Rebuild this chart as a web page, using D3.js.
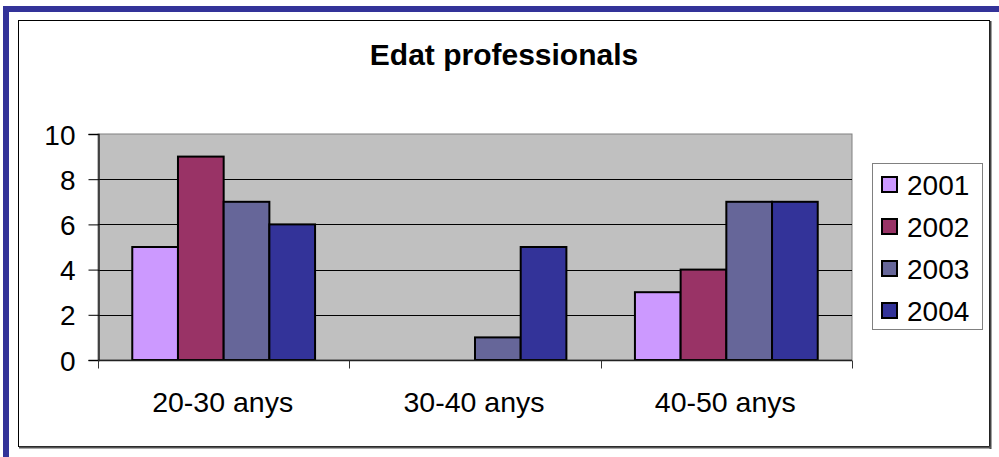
<!DOCTYPE html>
<html>
<head>
<meta charset="utf-8">
<script src="https://cdn.jsdelivr.net/npm/d3@7"></script>
<style>
  html, body { margin: 0; padding: 0; background: #fff; }
  svg { display: block; }
  text { font-family: "Liberation Sans", Arial, sans-serif; fill: #000; }
</style>
</head>
<body>
<svg id="chart" width="999" height="457"></svg>
<script>
const title = "Edat professionals";
const categories = ["20-30 anys", "30-40 anys", "40-50 anys"];
const seriesNames = ["2001", "2002", "2003", "2004"];
const values2001 = [5, 0, 3];
const values2002 = [9, 0, 4];
const values2003 = [7, 1, 7];
const values2004 = [6, 5, 7];
const seriesValues = [values2001, values2002, values2003, values2004];
const seriesColors = ["#CC99FF", "#993366", "#666699", "#333399"];
const yTicks = [0, 2, 4, 6, 8, 10];

const svg = d3.select("#chart");

// outer blue frame
svg.append("rect").attr("x", 3).attr("y", 6).attr("width", 996).attr("height", 6).attr("fill", "#333399");
svg.append("rect").attr("x", 3).attr("y", 6).attr("width", 6).attr("height", 451).attr("fill", "#333399");

// chart area box
svg.append("rect").attr("x", 18.5).attr("y", 20.5).attr("width", 971).attr("height", 426)
  .attr("fill", "#fff").attr("stroke", "#000").attr("stroke-width", 1);
svg.append("line").attr("x1", 990.5).attr("x2", 990.5).attr("y1", 21).attr("y2", 449)
  .attr("stroke", "#444").attr("stroke-width", 2);
svg.append("line").attr("x1", 19).attr("x2", 991).attr("y1", 447.5).attr("y2", 447.5)
  .attr("stroke", "#555").attr("stroke-width", 2);

// title
svg.append("text").attr("x", 504).attr("y", 65).attr("text-anchor", "middle")
  .attr("font-size", 30).attr("font-weight", "bold").text(title);

const plot = { left: 98, right: 852, top: 134, bottom: 360 };

const x0 = d3.scaleBand().domain(categories).range([plot.left, plot.right]).padding(0);
const bw = x0.bandwidth() / (seriesNames.length + 1.5);
const x1 = d3.scaleBand().domain(seriesNames)
  .range([0.75 * bw, 0.75 * bw + seriesNames.length * bw]).padding(0);
const y = d3.scaleLinear().domain([0, 10]).range([plot.bottom, plot.top]);

// plot background
svg.append("rect").attr("x", plot.left).attr("y", plot.top)
  .attr("width", plot.right - plot.left).attr("height", plot.bottom - plot.top)
  .attr("fill", "#C0C0C0").attr("stroke", "#808080").attr("stroke-width", 1);

// gridlines
svg.append("g").selectAll("line").data(yTicks.filter(t => t > 0 && t < 10)).join("line")
  .attr("x1", plot.left).attr("x2", plot.right)
  .attr("y1", d => Math.round(y(d)) + 0.5).attr("y2", d => Math.round(y(d)) + 0.5)
  .attr("stroke", "#000").attr("stroke-width", 1);

// bars
const groups = svg.append("g").selectAll("g").data(categories).join("g")
  .attr("transform", c => `translate(${x0(c)},0)`);
groups.selectAll("rect")
  .data((c, ci) => seriesNames.map((s, si) => ({ s, si, v: seriesValues[si][ci] })))
  .join("rect")
  .filter(d => d.v > 0)
  .attr("x", d => x1(d.s))
  .attr("y", d => y(d.v))
  .attr("width", x1.bandwidth())
  .attr("height", d => y(0) - y(d.v))
  .attr("fill", d => seriesColors[d.si])
  .attr("stroke", "#000").attr("stroke-width", 2);

// y axis
const yAxis = d3.axisLeft(y).tickValues(yTicks).tickSize(10).tickPadding(13);
const gy = svg.append("g").attr("transform", `translate(${plot.left + 0.5},0)`).call(yAxis);
gy.select(".domain").attr("stroke", "#222").attr("stroke-width", 1.5);
gy.selectAll(".tick line").attr("stroke", "#000");
gy.selectAll(".tick text").attr("font-size", 28).attr("font-family", "'Liberation Sans', Arial, sans-serif")
  .attr("fill", "#000").attr("dy", "0.36em");

// x axis
const gx = svg.append("g").attr("transform", `translate(0,${plot.bottom + 0.5})`);
gx.append("line").attr("x1", plot.left).attr("x2", plot.right).attr("y1", 0).attr("y2", 0)
  .attr("stroke", "#222").attr("stroke-width", 1.5);
const boundaries = categories.map(c => x0(c)).concat([x0(categories[categories.length - 1]) + x0.bandwidth()]);
gx.selectAll("line.tk").data(boundaries).join("line").attr("class", "tk")
  .attr("x1", d => Math.round(d) + 0.5).attr("x2", d => Math.round(d) + 0.5)
  .attr("y1", 0).attr("y2", 8).attr("stroke", "#333");
gx.selectAll("text").data(categories).join("text")
  .attr("x", c => x0(c) + x0.bandwidth() / 2 - 1).attr("y", 51.5)
  .attr("text-anchor", "middle").attr("font-size", 28.5).text(c => c);

// legend
const legend = svg.append("g");
legend.append("rect").attr("x", 872.5).attr("y", 163.5).attr("width", 110).attr("height", 166)
  .attr("fill", "#fff").attr("stroke", "#808080").attr("stroke-width", 1);
const ly = d3.scalePoint().domain(seriesNames).range([184.5, 310.5]);
const items = legend.selectAll("g.item").data(seriesNames).join("g").attr("class", "item")
  .attr("transform", s => `translate(0,${ly(s)})`);
items.append("rect").attr("x", 882).attr("y", -7.5).attr("width", 15).attr("height", 15)
  .attr("fill", (s, i) => seriesColors[i]).attr("stroke", "#000").attr("stroke-width", 2);
items.append("text").attr("x", 907).attr("y", 0).attr("dy", "0.36em")
  .attr("font-size", 28).text(s => s);
</script>
</body>
</html>
